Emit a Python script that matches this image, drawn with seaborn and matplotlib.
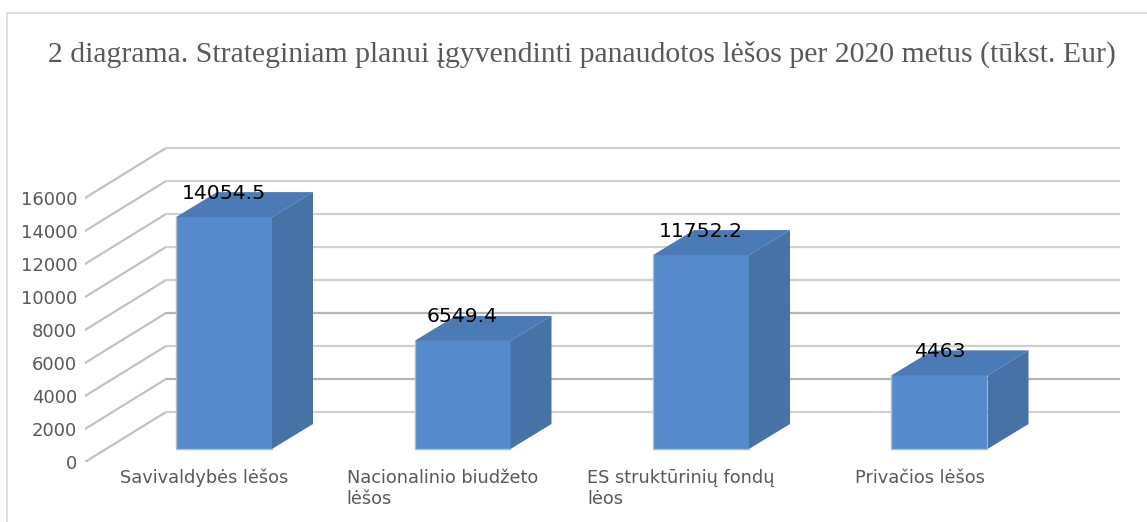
import pandas as pd
import matplotlib.pyplot as plt
import seaborn as sns
from matplotlib.lines import Line2D
from matplotlib.patches import Polygon
from matplotlib.transforms import ScaledTranslation

TITLE = "2 diagrama. Strateginiam planui įgyvendinti panaudotos lėšos per 2020 metus (tūkst. Eur)"
CATEGORIES = ["Savivaldybės lėšos", "Nacionalinio biudžeto\nlėšos",
              "ES struktūrinių fondų\nlėos", "Privačios lėšos"]
VALUES = [14054.5, 6549.4, 11752.2, 4463]
VALUE_LABELS = ["14054.5", "6549.4", "11752.2", "4463"]
YTICKS = [0, 2000, 4000, 6000, 8000, 10000, 12000, 14000, 16000]

W, H = 1147, 522
PX_X = 238.5      # px per category
PX_Y = 0.0165     # px per eur unit
X0 = 224          # px of first bar centre
BASE = 462        # px of y=0 on the front edge

sns.set_theme(style="white")
plt.rcParams["font.family"] = ["DejaVu Sans"]

fig = plt.figure(figsize=(W / 100, H / 100), dpi=100)
ax = fig.add_axes([85 / W, (H - BASE) / H, (1120 - 85) / W, (BASE - 140) / H])

df = pd.DataFrame({"cat": CATEGORIES, "val": VALUES})
lift = 13 / PX_Y   # bars stand a bit behind the front edge
sns.barplot(data=df, x="cat", y="val", color="#558ACD", saturation=1,
            width=96 / PX_X, bottom=lift, linewidth=0, zorder=3, ax=ax)

ax.set_xlim((85 - X0) / PX_X, (1120 - X0) / PX_X)
ax.set_ylim(0, (BASE - 140) / PX_Y)
ax.set_yticks(YTICKS)
ax.set_xlabel("")
ax.set_ylabel("")
sns.despine(ax=ax, left=True, bottom=True)
ax.tick_params(axis="y", length=0, pad=5.5, labelsize=13, labelcolor="#595959")
ax.tick_params(axis="x", length=0, pad=5, labelsize=12.8, labelcolor="#595959")

# labels sit on the front edge, bars are pushed back and to the right
shift = ScaledTranslation(-20 / 100, 0, fig.dpi_scale_trans)
for lab in ax.get_xticklabels():
    lab.set_multialignment("left")
    lab.set_transform(lab.get_transform() + shift)

# wall and side gridlines
wall_dx, wall_dy = 81 / PX_X, 50 / PX_Y
x_left, x_right = ax.get_xlim()
for t in YTICKS:
    col = "#b5b5b5" if t in (2000, 6000) else "#d0d0d0"
    ax.plot([x_left, x_left + wall_dx], [t, t + wall_dy], color="#c2c2c2", lw=1.6, zorder=1)
    ax.plot([x_left + wall_dx, x_right], [t + wall_dy, t + wall_dy], color=col, lw=1.6, zorder=1)

# top and side faces taken from the drawn bars
dx, dy = 41 / PX_X, 25 / PX_Y
bars = list(ax.containers[0])
for p in bars:
    x, y, w, h = p.get_x(), p.get_y(), p.get_width(), p.get_height()
    top = [(x, y + h), (x + w, y + h), (x + w + dx, y + h + dy), (x + dx, y + h + dy)]
    side = [(x + w, y), (x + w + dx, y + dy), (x + w + dx, y + h + dy), (x + w, y + h)]
    ax.add_patch(Polygon(top, closed=True, facecolor="#4A7BB7", edgecolor="none", zorder=3))
    ax.add_patch(Polygon(side, closed=True, facecolor="#4672A6", edgecolor="none", zorder=3))
    # soft shadow on the left and bottom edge
    ax.plot([x, x, x + w], [y + h, y, y], color="#b4bcc6", lw=1, zorder=3)

ax.bar_label(ax.containers[0], labels=VALUE_LABELS, padding=10.5, fontsize=14.7,
             color="black", zorder=5)

# chart frame
fig.add_artist(Line2D([7 / W, 7 / W], [0, 1 - 13 / H], color="#d9d9d9", lw=1.2))
fig.add_artist(Line2D([7 / W, 1], [1 - 13 / H, 1 - 13 / H], color="#d9d9d9", lw=1.2))

fig.text(48 / W, 1 - 62 / H, TITLE, fontsize=21.4, color="#595959",
         family="Liberation Serif", ha="left", va="baseline")

plt.savefig("out.png", dpi=100)
plt.close()
